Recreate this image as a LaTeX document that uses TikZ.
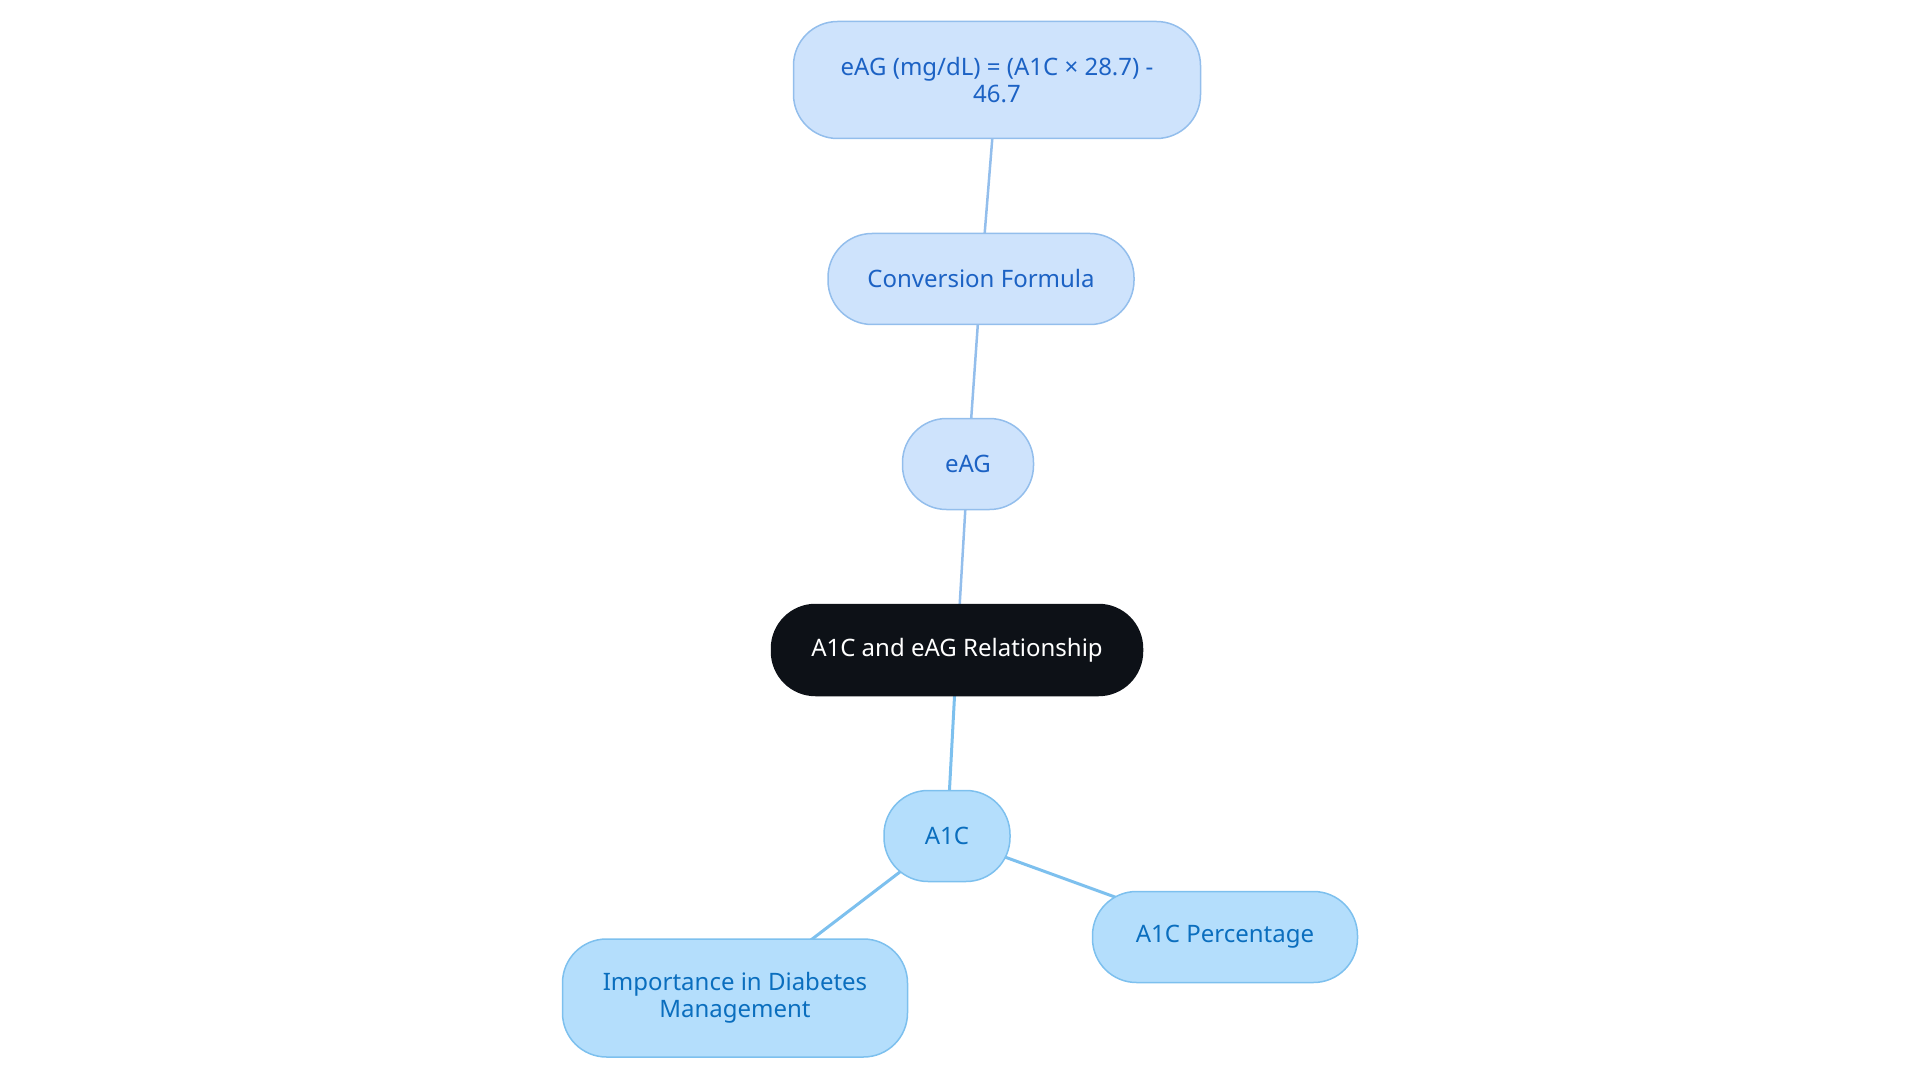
\documentclass[tikz,border=0pt]{standalone}
\usepackage{fontspec}
\setmainfont{Noto Sans}
\usetikzlibrary{backgrounds}
\definecolor{eagfill}{RGB}{206,227,252}
\definecolor{eagline}{RGB}{147,190,236}
\definecolor{eagtext}{RGB}{28,98,196}
\definecolor{aonefill}{RGB}{180,222,252}
\definecolor{aoneline}{RGB}{125,192,238}
\definecolor{aonetext}{RGB}{10,110,190}
\definecolor{rootfill}{RGB}{13,17,23}
\begin{document}
\begin{tikzpicture}[x=1pt,y=-1pt,
    box/.style={draw,line width=1.5pt,rounded corners=44pt,align=center,
        font=\fontsize{24}{27}\selectfont,inner sep=0pt,minimum height=91pt},
    eagbox/.style={box,fill=eagfill,draw=eagline,text=eagtext},
    aonebox/.style={box,fill=aonefill,draw=aoneline,text=aonetext},
    rootbox/.style={box,fill=rootfill,draw=rootfill,text=white}]
            \useasboundingbox (0,0) rectangle (1920,1083);
            \begin{scope}[every node/.style={}]
                \node[rootbox,minimum width=371pt] (root) at (957,650) {A1C and eAG Relationship};
                \node[eagbox,minimum width=131pt] (eag) at (968,464) {eAG};
                \node[eagbox,minimum width=306pt] (conv) at (981,279) {Conversion Formula};
                \node[eagbox,minimum width=407pt,minimum height=117pt] (formula) at (997,80) {eAG (mg/dL) = (A1C × 28.7) -\\46.7};
                \node[aonebox,minimum width=126pt] (aone) at (947,836) {A1C};
                \node[aonebox,minimum width=265pt] (perc) at (1225,937) {A1C Percentage};
                \node[aonebox,minimum width=345pt,minimum height=118pt] (imp) at (735,998) {Importance in Diabetes\\Management};
            \end{scope}
            \begin{scope}[on background layer]
            \draw (root.center) edge [eagline, line width=2.5pt] (eag.center);
            \draw (eag.center) edge [eagline, line width=2.5pt] (conv.center);
            \draw (conv.center) edge [eagline, line width=2.5pt] (formula.center);
            \draw (root.center) edge [aoneline, line width=3pt] (aone.center);
            \draw (aone.center) edge [aoneline, line width=3pt] (perc.center);
            \draw (aone.center) edge [aoneline, line width=3pt] (imp.center);
            \end{scope}
        \end{tikzpicture}
\end{document}
